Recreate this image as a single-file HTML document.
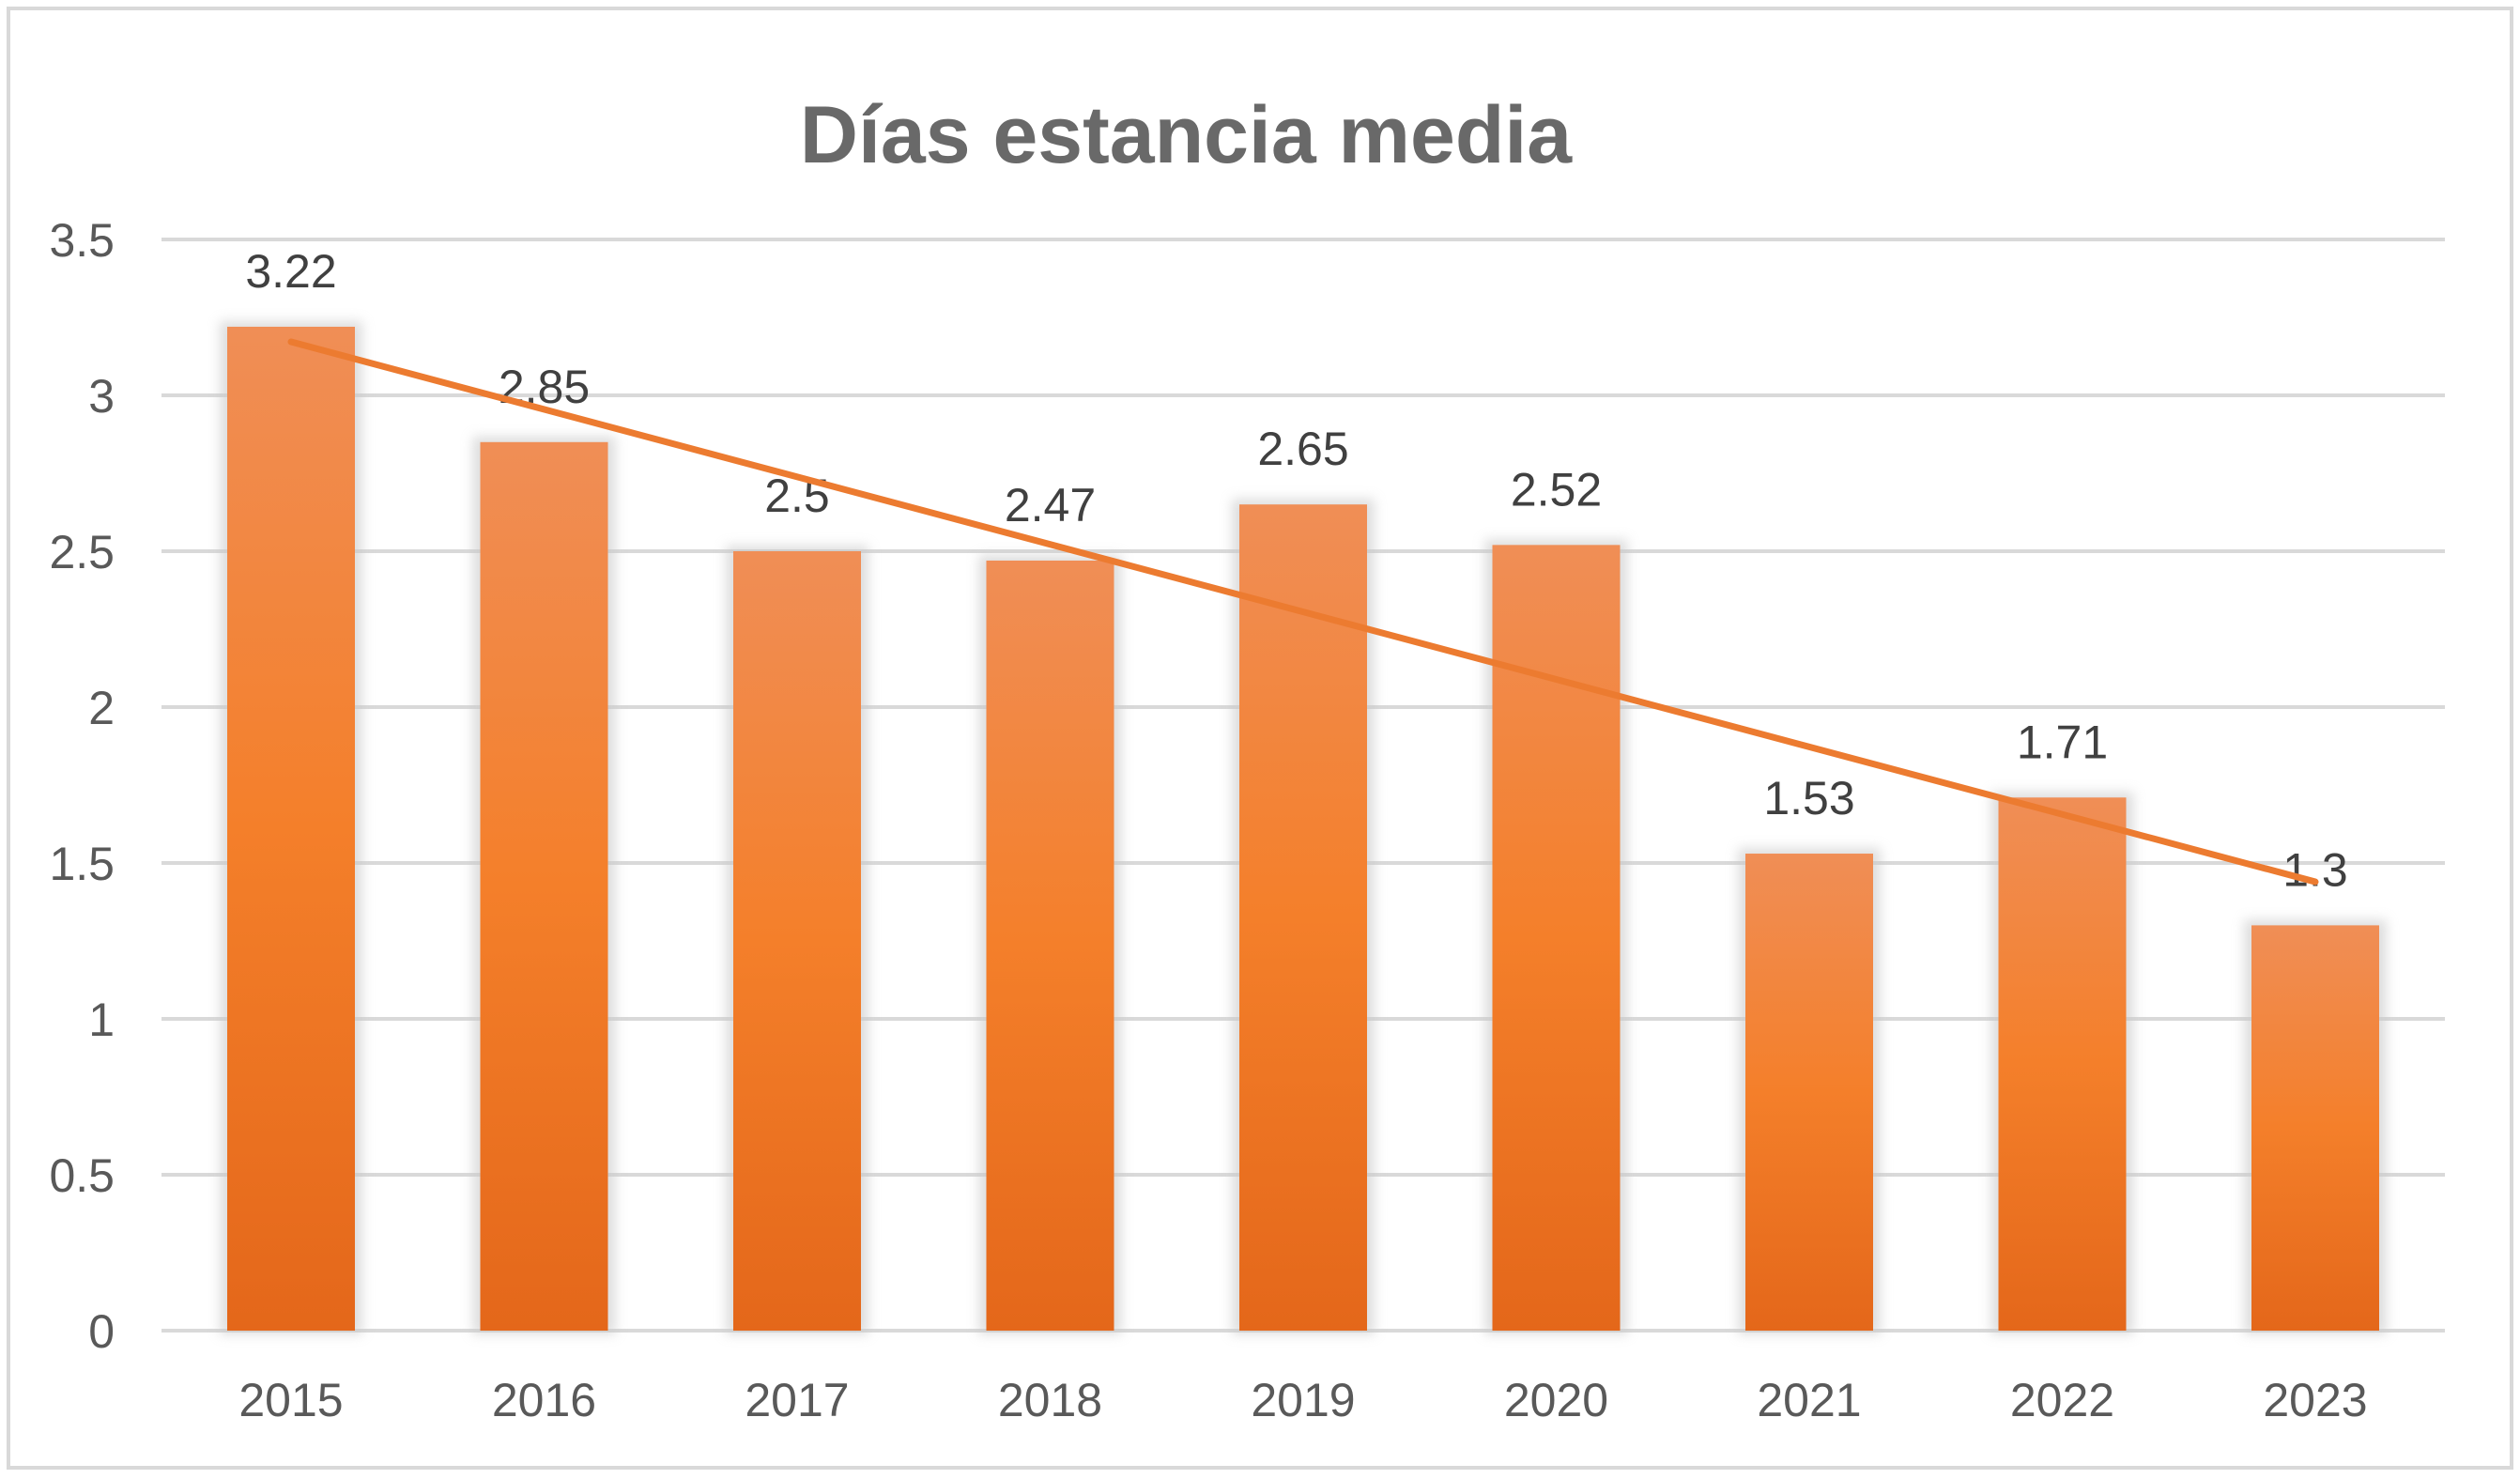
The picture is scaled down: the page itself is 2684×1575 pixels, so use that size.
<!DOCTYPE html>
<html><head><meta charset="utf-8"><style>
html,body{margin:0;padding:0;background:#fff;}
svg{display:block;font-family:"Liberation Sans",sans-serif;}
</style></head><body>
<svg id="chart" width="2684" height="1575" viewBox="0 0 2684 1575">
<defs>
<linearGradient id="bg" x1="0" y1="0" x2="0" y2="1">
<stop offset="0" stop-color="#f08e56"/><stop offset="0.5" stop-color="#f47f2a"/><stop offset="1" stop-color="#e4671a"/>
</linearGradient>
<filter id="sh" x="-20%" y="-10%" width="140%" height="120%"><feGaussianBlur stdDeviation="6"/></filter>
</defs>
<rect x="9" y="9" width="2666" height="1554" fill="#fff" stroke="#d9d9d9" stroke-width="4"/>
<text x="1263" y="173" text-anchor="middle" font-size="86" font-weight="bold" fill="#696969">Días estancia media</text>
<g id="grid"></g><g id="bars"></g><g id="labels"></g><g id="trend"></g>
</svg>
<script>
const categories=["2015","2016","2017","2018","2019","2020","2021","2022","2023"];
const values=[3.22,2.85,2.5,2.47,2.65,2.52,1.53,1.71,1.3];
const valueLabels=["3.22","2.85","2.5","2.47","2.65","2.52","1.53","1.71","1.3"];
const yTicks=[0,0.5,1,1.5,2,2.5,3,3.5];
const yTickLabels=["0","0.5","1","1.5","2","2.5","3","3.5"];
const NS="http://www.w3.org/2000/svg";
const y0=1417,pxPerUnit=332,x0=310,step=269.5,bw=136,left=172,right=2604;
function y(v){return y0-v*pxPerUnit;}
function x(i){return x0+i*step;}
function mk(tag,attrs,parent){const e=document.createElementNS(NS,tag);for(const k in attrs)e.setAttribute(k,attrs[k]);document.getElementById(parent).appendChild(e);return e;}
yTicks.forEach((t,i)=>{
  const l=mk('line',{x1:left,x2:right,y1:y(t),y2:y(t),stroke:'#d9d9d9','stroke-width':4},'grid');
  
  
  const tx=mk('text',{x:122,y:y(t)+18,'text-anchor':'end','font-size':50,fill:'#595959'},'grid');
  tx.textContent=yTickLabels[i];
  
  
});
values.forEach((v,i)=>{
  const s=mk('rect',{x:x(i)-bw/2-8,y:y(v)-6,width:bw+16,height:y(0)-y(v)+10,fill:'#c8c8c8',opacity:0.6,filter:'url(#sh)'},'bars');
  
  
  const r=mk('rect',{x:x(i)-bw/2,y:y(v),width:bw,height:y(0)-y(v),fill:'url(#bg)'},'bars');
  
  
  const lb=mk('text',{x:x(i),y:y(v)-42,'text-anchor':'middle','font-size':50,fill:'#404040'},'labels');
  lb.textContent=valueLabels[i];
  
  
  const cx=mk('text',{x:x(i),y:1508,'text-anchor':'middle','font-size':50,fill:'#595959'},'labels');
  cx.textContent=categories[i];
  
  
});
const n=values.length;let mx=0,my=0;values.forEach((v,i)=>{mx+=i;my+=v;});mx/=n;my/=n;
let num=0,den=0;values.forEach((v,i)=>{num+=(i-mx)*(v-my);den+=(i-mx)*(i-mx);});
const slope=num/den,icpt=my-slope*mx;
const tl=mk('line',{x1:x(0),y1:y(icpt),x2:x(n-1),y2:y(icpt+slope*(n-1)),stroke:'#ec7b30','stroke-width':7,'stroke-linecap':'round'},'trend');


</script>
</body></html>
